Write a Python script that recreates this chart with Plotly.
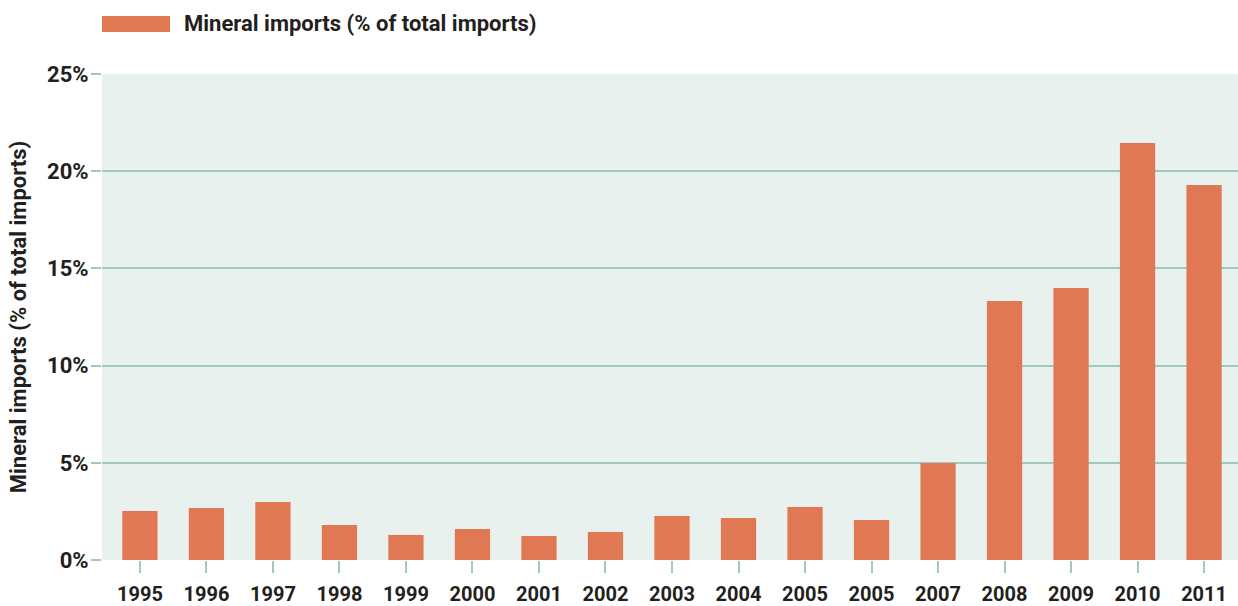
import plotly.graph_objects as go

years = ["1995", "1996", "1997", "1998", "1999", "2000", "2001", "2002", "2003",
         "2004", "2005", "2005", "2007", "2008", "2009", "2010", "2011"]
mineral_share = [2.52, 2.67, 2.98, 1.80, 1.29, 1.60, 1.23, 1.44, 2.26,
                 2.16, 2.73, 2.06, 4.99, 13.32, 13.99, 21.45, 19.29]
y_ticks = [0, 5, 10, 15, 20, 25]
y_tick_labels = ["0%", "5%", "10%", "15%", "20%", "25%"]
series_name = "Mineral imports (% of total imports)"

positions = list(range(len(years)))

BAR = "#e07853"
GRID = "#a0c9c1"
BG = "#e8f1ee"
TXT = "#231f20"
FONT = "Roboto"

fig = go.Figure()
fig.add_trace(go.Bar(
    x=positions, y=mineral_share, name=series_name,
    marker=dict(color=BAR, line=dict(width=0)),
    width=0.53, showlegend=False,
))

fig.update_layout(
    width=1238, height=606,
    margin=dict(l=102, r=0, t=74, b=46),
    paper_bgcolor="white", plot_bgcolor=BG,
    font=dict(family=FONT, color=TXT, size=20),
    xaxis=dict(
        tickmode="array", tickvals=positions, ticktext=years,
        range=[-0.57, 16.51], automargin=False,
        ticks="outside", ticklen=12, tickwidth=1.5, tickcolor=GRID,
        tickfont=dict(family=FONT, size=20, color=TXT, weight="bold"),
        ticklabelstandoff=4,
        showgrid=False, zeroline=False, showline=False,
    ),
    yaxis=dict(
        tickmode="array", tickvals=y_ticks, ticktext=y_tick_labels,
        range=[0, 25], automargin=False,
        ticks="outside", ticklen=10, tickwidth=1.5, tickcolor=GRID,
        tickfont=dict(family=FONT, size=22, color=TXT, weight="bold"),
        ticklabelstandoff=-2,
        showgrid=True, gridcolor=GRID, gridwidth=1.5,
        zeroline=False, showline=False,
        title=dict(text=series_name, standoff=14,
                   font=dict(family=FONT, size=22, color=TXT, weight="bold")),
    ),
)

# legend drawn as swatch + label
fig.add_shape(type="rect", xref="paper", yref="paper",
              x0=(102 - 102) / 1136, x1=(170 - 102) / 1136,
              y0=(560 - 32) / 486, y1=(560 - 16) / 486,
              fillcolor=BAR, line=dict(width=0))
fig.add_annotation(xref="paper", yref="paper",
                   x=(182 - 102) / 1136, y=(560 - 24) / 486,
                   xanchor="left", yanchor="middle", showarrow=False,
                   text=series_name,
                   font=dict(family=FONT, size=22, color=TXT, weight="bold"))

fig.write_html("out.html", config={"displayModeBar": False},
               post_script="document.body.style.margin='0';")
